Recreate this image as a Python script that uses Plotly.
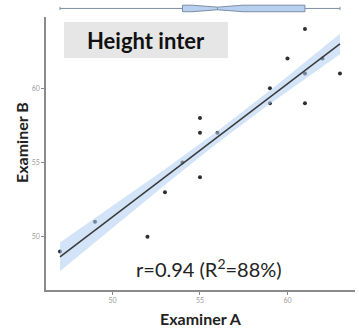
import numpy as np
import plotly.graph_objects as go

# Paired height measurements (cm) by two examiners; each distinct pair
# is listed once with the number of subjects that share it
examiner_a = [47, 49, 52, 53, 54, 55, 55, 55, 56, 59, 59, 60, 61, 61, 61, 62, 63]
examiner_b = [49, 51, 50, 53, 55, 58, 57, 54, 57, 60, 59, 62, 64, 61, 59, 62, 61]
n_subjects = [3, 3, 3, 3, 3, 3, 6, 3, 3, 3, 3, 3, 3, 3, 3, 6, 3]

x_ticks = [50, 55, 60]
y_ticks = [50, 55, 60]

xa = np.repeat(np.array(examiner_a, dtype=float), n_subjects)
yb = np.repeat(np.array(examiner_b, dtype=float), n_subjects)
n = len(xa)

# Least-squares fit with 95% confidence band
slope, intercept = np.polyfit(xa, yb, 1)
xs = np.linspace(xa.min(), xa.max(), 80)
fit = intercept + slope * xs
resid = yb - (intercept + slope * xa)
s = np.sqrt(np.sum(resid ** 2) / (n - 2))
sxx = np.sum((xa - xa.mean()) ** 2)
t_crit = 2.005
half = t_crit * s * np.sqrt(1 / n + (xs - xa.mean()) ** 2 / sxx)
r = np.corrcoef(xa, yb)[0, 1]

fig = go.Figure()

fig.add_trace(go.Scatter(
    x=examiner_a, y=examiner_b, mode="markers",
    marker=dict(color="#2e2e2e", size=4), showlegend=False,
))
fig.add_trace(go.Scatter(
    x=np.concatenate([xs, xs[::-1]]),
    y=np.concatenate([fit + half, (fit - half)[::-1]]),
    fill="toself", fillcolor="rgba(175,205,242,0.55)",
    line=dict(width=0), hoverinfo="skip", showlegend=False,
))
fig.add_trace(go.Scatter(
    x=xs, y=fit, mode="lines",
    line=dict(color="#3a3a3a", width=1.5), showlegend=False,
))

# Marginal notched box plot of examiner A along the top
fig.add_trace(go.Box(
    x=xa, y0=0, orientation="h", notched=True, notchwidth=0.3,
    boxpoints=False, yaxis="y2", xaxis="x",
    fillcolor="#b7d0ef", line=dict(color="#7d8ea6", width=1),
    width=0.6, showlegend=False,
))

fig.update_layout(
    width=359, height=334,
    margin=dict(l=46, r=4, t=3, b=44),
    paper_bgcolor="white", plot_bgcolor="white",
    xaxis=dict(
        range=[46.2, 63.86], tickvals=x_ticks, showgrid=False, zeroline=False,
        showline=True, linecolor="#8a8a8a", linewidth=1.5,
        ticks="outside", ticklen=3, tickcolor="#8a8a8a",
        tickfont=dict(family="Lato", size=7, color="#9a9a9a"),
    ),
    yaxis=dict(
        domain=[0, 0.951], range=[46.41, 64.8], tickvals=y_ticks,
        showgrid=False, zeroline=False,
        showline=True, linecolor="#8a8a8a", linewidth=1.5,
        ticks="outside", ticklen=3, tickcolor="#8a8a8a",
        tickfont=dict(family="Lato", size=7, color="#9a9a9a"),
    ),
    yaxis2=dict(domain=[0.962, 1.0], range=[-0.5, 0.5], visible=False),
)


def px_x(p):
    return (p - 46) / 309


def px_y(p):
    return (290 - p) / 287


# Panel label
fig.add_shape(type="rect", xref="paper", yref="paper",
              x0=px_x(64), x1=px_x(228), y0=px_y(58), y1=px_y(22),
              fillcolor="#e6e6e6", line=dict(width=0), layer="below")
fig.add_annotation(text="<b>Height inter</b>", xref="paper", yref="paper",
                   x=px_x(146), y=px_y(40), xanchor="center", yanchor="middle",
                   showarrow=False, font=dict(family="Lato", size=22, color="#111111"))

fig.add_annotation(text=f"r={r:.2f} (R<sup>2</sup>={r * r * 100:.0f}%)",
                   xref="paper", yref="paper",
                   x=px_x(209), y=px_y(268), xanchor="center", yanchor="middle",
                   showarrow=False, font=dict(family="Lato", size=20, color="#222222"))

fig.add_annotation(text="<b>Examiner A</b>", xref="paper", yref="paper",
                   x=px_x(201), y=px_y(318), xanchor="center", yanchor="middle",
                   showarrow=False, font=dict(family="Lato", size=16, color="#222222"))
fig.add_annotation(text="<b>Examiner B</b>", xref="paper", yref="paper",
                   x=px_x(21), y=px_y(143), xanchor="center", yanchor="middle",
                   textangle=-90,
                   showarrow=False, font=dict(family="Lato", size=16, color="#222222"))

fig.write_html("out.html")
